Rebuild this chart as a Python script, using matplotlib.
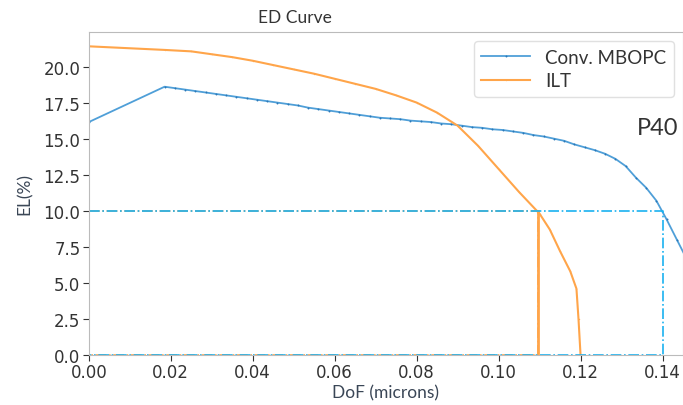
import numpy as np
import matplotlib.pyplot as plt

# Conv. MBOPC curve
dof_mbopc = [0.0, 0.0185, 0.021, 0.0235, 0.026, 0.0285, 0.031, 0.0335, 0.036, 0.0385,
             0.041, 0.0435, 0.046, 0.0485, 0.051, 0.0535, 0.056, 0.0585, 0.061, 0.0635,
             0.066, 0.0685, 0.071, 0.0735, 0.076, 0.0785, 0.081, 0.0835, 0.086, 0.0885,
             0.091, 0.0935, 0.096, 0.0985, 0.101, 0.1035, 0.106, 0.1085, 0.111, 0.1135,
             0.116, 0.1185, 0.121, 0.1235, 0.126, 0.1285, 0.131, 0.1335, 0.136, 0.1385,
             0.141, 0.1435, 0.146]
el_mbopc = [16.15, 18.6, 18.5, 18.4, 18.3, 18.2, 18.1, 18.0, 17.9, 17.8,
            17.7, 17.6, 17.5, 17.4, 17.3, 17.15, 17.05, 16.95, 16.85, 16.75,
            16.65, 16.55, 16.45, 16.4, 16.35, 16.25, 16.2, 16.15, 16.05, 16.0,
            15.9, 15.8, 15.75, 15.65, 15.6, 15.5, 15.4, 15.25, 15.15, 15.0,
            14.85, 14.6, 14.4, 14.2, 13.95, 13.6, 13.1, 12.3, 11.6, 10.7,
            9.4, 8.0, 6.6]

# ILT curve
dof_ilt = [0.0, 0.0185, 0.025, 0.03, 0.035, 0.04, 0.045, 0.05, 0.055, 0.06,
           0.065, 0.07, 0.075, 0.08, 0.085, 0.09, 0.095, 0.1, 0.105, 0.11,
           0.1125, 0.115, 0.1175, 0.119, 0.1195, 0.12]
el_ilt = [21.4, 21.15, 21.05, 20.85, 20.65, 20.4, 20.1, 19.8, 19.5, 19.15,
          18.8, 18.45, 18.0, 17.5, 16.8, 15.9, 14.5, 12.9, 11.3, 9.8,
          8.7, 7.2, 5.8, 4.6, 2.5, 0.0]

el_spec = 10.0
dof_ilt_at_spec = 0.1097
dof_mbopc_at_spec = 0.14

c_blue = '#4f9fd8'
c_orange = '#ffa54a'
c_cyan = '#1ab2f0'

fig = plt.figure(figsize=(6.83, 4.06), dpi=100)
ax = fig.add_axes([0.130, 0.123, 0.870, 0.796])

ax.plot(dof_mbopc, el_mbopc, '-', color=c_blue, lw=1.3, marker='o', ms=1.4,
        markeredgewidth=0, markerfacecolor='#2a78b8', label='Conv. MBOPC')
ax.plot(dof_ilt, el_ilt, '-', color=c_orange, lw=1.5, marker='o', ms=1.0,
        markeredgewidth=0, label='ILT')

# spec boxes
ax.plot([0, dof_ilt_at_spec, dof_ilt_at_spec, 0, 0],
        [el_spec, el_spec, 0, 0, el_spec], '-.', color=c_orange, lw=1.2)
ax.plot([dof_ilt_at_spec, dof_ilt_at_spec], [0, el_spec], '-', color=c_orange, lw=2)
ax.plot([0, dof_mbopc_at_spec, dof_mbopc_at_spec, 0, 0],
        [el_spec, el_spec, 0, 0, el_spec], '-.', color=c_cyan, lw=1.2)

ax.set_xlim(0, 0.145)
ax.set_ylim(0, 22.4)
ax.set_xticks(np.arange(0, 0.141, 0.02))
ax.set_yticks(np.arange(0, 20.1, 2.5))
ax.tick_params(labelsize=12, colors='#333333', length=4, pad=2)
for s in ax.spines.values():
    s.set_color('#bbbbbb')

lab_font = dict(family=['Lato', 'DejaVu Sans'], fontsize=12.5, color='#3a4656')
ax.set_xlabel('DoF (microns)', labelpad=2, **lab_font)
ax.set_ylabel('EL(%)', labelpad=8, **lab_font)
ax.set_title('ED Curve', pad=7, x=0.347, family=['Lato', 'DejaVu Sans'], fontsize=12.5,
             color='#333333')

ax.text(0.1438, 15.8, 'P40', ha='right', va='center', fontsize=17,
        family=['Lato', 'DejaVu Sans'], color='#333333')

leg = ax.legend(loc='upper right', prop={'family': ['Lato', 'DejaVu Sans'], 'size': 13.5},
                handlelength=2.6, borderaxespad=0.5, framealpha=1, labelspacing=0.35)
leg.get_frame().set_edgecolor('#e0e0e0')
for t in leg.get_texts():
    t.set_color('#333333')

fig.savefig('out.png', dpi=100)
